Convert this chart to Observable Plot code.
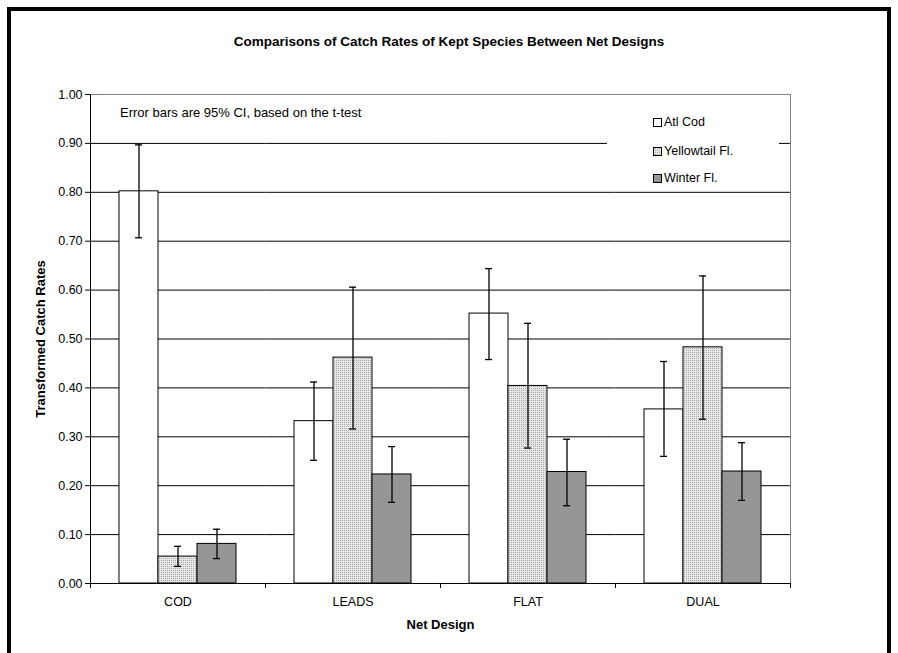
<!DOCTYPE html>
<html>
<head>
<meta charset="utf-8">
<script src="https://cdn.jsdelivr.net/npm/d3@7"></script>
<script src="https://cdn.jsdelivr.net/npm/@observablehq/plot@0.6"></script>
<style>
  html, body { margin: 0; padding: 0; background: #fff; }
  body { font-family: "Liberation Sans", Arial, sans-serif; }
  #wrap { position: relative; width: 898px; height: 653px; overflow: hidden; }
  #border { position: absolute; left: 7px; top: 7px; width: 884px; height: 700px; border: 4px solid #000; box-sizing: border-box; }
  #title { position: absolute; left: 0; width: 898px; top: 34px; text-align: center; font-size: 13.5px; font-weight: bold; color: #000; }
  #note { position: absolute; left: 120px; top: 105px; font-size: 13px; color: #000; }
  #legend { position: absolute; left: 607px; top: 100px; width: 172px; height: 88px; background: #fff; }
  .item { position: absolute; left: 46px; font-size: 12.5px; height: 14px; line-height: 14px; white-space: nowrap; }
  .sw { display: inline-block; width: 7px; height: 7px; border: 1px solid #000; vertical-align: -1px; margin-right: 2px; }
  #chart svg g[aria-label="y-axis label"], #chart svg g[aria-label="fx-axis label"] { font-weight: bold; font-size: 13px; }
</style>
</head>
<body>
<div id="wrap">
  <div id="chart"></div>
  <div id="border"></div>
  <div id="title">Comparisons of Catch Rates of Kept Species Between Net Designs</div>
  <div id="note">Error bars are 95% CI, based on the t-test</div>
  <div id="legend"></div>
</div>
<script>
const categories = ["COD", "LEADS", "FLAT", "DUAL"];
const species = ["Atl Cod", "Yellowtail Fl.", "Winter Fl."];
const speciesFills = ["#ffffff", "url(#dots)", "#969696"];

const atlCod      = [0.802, 0.332, 0.552, 0.356];
const atlCodLow   = [0.707, 0.252, 0.458, 0.260];
const atlCodHigh  = [0.897, 0.412, 0.644, 0.454];

const yellowtail     = [0.055, 0.462, 0.404, 0.483];
const yellowtailLow  = [0.035, 0.316, 0.277, 0.336];
const yellowtailHigh = [0.076, 0.606, 0.532, 0.629];

const winter     = [0.081, 0.223, 0.228, 0.229];
const winterLow  = [0.051, 0.166, 0.159, 0.170];
const winterHigh = [0.111, 0.280, 0.295, 0.288];

const yTicks = [0, 0.1, 0.2, 0.3, 0.4, 0.5, 0.6, 0.7, 0.8, 0.9, 1.0];
const gridTicks = [0.1, 0.2, 0.3, 0.4, 0.5, 0.6, 0.7, 0.8, 0.9];

const series = [
  {name: species[0], v: atlCod, lo: atlCodLow, hi: atlCodHigh},
  {name: species[1], v: yellowtail, lo: yellowtailLow, hi: yellowtailHigh},
  {name: species[2], v: winter, lo: winterLow, hi: winterHigh}
];
const rows = [];
categories.forEach((c, i) => {
  series.forEach(s => rows.push({category: c, species: s.name, value: s.v[i], low: s.lo[i], high: s.hi[i]}));
});

const W = 898, H = 653, ML = 90, MR = 107, MT = 94, MB = 70;
const PAD_IN = 0.33;
// half of the gap between facet groups, so horizontal lines span the whole plot
const step = (W - ML - MR) / categories.length;
const halfGap = step * PAD_IN / 2;

const plot = Plot.plot({
  width: W,
  height: H,
  marginLeft: ML,
  marginRight: MR,
  marginTop: MT,
  marginBottom: MB,
  style: {fontFamily: "'Liberation Sans', Arial, sans-serif", fontSize: "12.5px", background: "transparent", color: "#000"},
  fx: {domain: categories, paddingInner: PAD_IN, paddingOuter: PAD_IN / 2},
  x: {domain: species, padding: 0, axis: null},
  y: {domain: [0, 1]},
  color: {domain: species, range: speciesFills},
  marks: [
    Plot.ruleY(gridTicks, {stroke: "#000", strokeWidth: 1, insetLeft: -halfGap, insetRight: -halfGap}),
    Plot.ruleY([1], {stroke: "#808080", strokeWidth: 1, insetLeft: -halfGap, insetRight: -halfGap}),
    Plot.barY(rows, {fx: "category", x: "species", y: "value", fill: "species", stroke: "#000", strokeWidth: 1}),
    Plot.ruleX(rows, {fx: "category", x: "species", y1: "low", y2: "high", stroke: "#000", strokeWidth: 1.3}),
    Plot.tickY(rows, {fx: "category", x: "species", y: "low", stroke: "#000", strokeWidth: 1.3, insetLeft: 16, insetRight: 16}),
    Plot.tickY(rows, {fx: "category", x: "species", y: "high", stroke: "#000", strokeWidth: 1.3, insetLeft: 16, insetRight: 16}),
    Plot.ruleY([0], {stroke: "#000", insetLeft: -halfGap, insetRight: -halfGap}),
    Plot.axisY({ticks: yTicks, tickFormat: d3.format(".2f"), tickSize: 5, tickPadding: 3, dx: -halfGap,
      label: "Transformed Catch Rates", labelArrow: "none", labelAnchor: "center", labelOffset: 84}),
    Plot.axisFx({anchor: "bottom", tickSize: 0, tickPadding: 14, label: "Net Design", labelArrow: "none", labelAnchor: "center", labelOffset: 45})
  ]
});
document.getElementById("chart").appendChild(plot);

const svg = d3.select(plot);
svg.insert("defs", ":first-child").html(
  '<pattern id="dots" width="2" height="2" patternUnits="userSpaceOnUse">' +
  '<rect width="2" height="2" fill="#e6e6e6"/><rect width="1" height="1" fill="#a8a8a8"/></pattern>');

// left axis line, right plot border and category boundary ticks, from the library's scales
const fx = plot.scale("fx");
const yS = plot.scale("y");
const y0 = yS.apply(0);
const y1 = yS.apply(1);
const gap = (fx.step - fx.bandwidth) / 2;
const bounds = categories.map(c => fx.apply(c) - gap);
bounds.push(fx.apply(categories[categories.length - 1]) + fx.bandwidth + gap);
const g = svg.append("g").attr("stroke", "#000");
const xl = Math.round(bounds[0]) + 0.5, xr = Math.round(bounds[bounds.length - 1]) + 0.5;
g.append("line").attr("x1", xr).attr("x2", xr).attr("y1", y1).attr("y2", y0).attr("stroke", "#808080");
g.append("line").attr("x1", xl).attr("x2", xl).attr("y1", y1).attr("y2", y0);
bounds.forEach(b => {
  g.append("line").attr("x1", Math.round(b) + 0.5).attr("x2", Math.round(b) + 0.5).attr("y1", y0).attr("y2", y0 + 5);
});

// legend
const legend = document.getElementById("legend");
const legendTops = [15, 44, 71];
species.forEach((s, i) => {
  const d = document.createElement("div");
  d.className = "item";
  d.style.top = legendTops[i] + "px";
  const sw = document.createElement("span");
  sw.className = "sw";
  if (i === 1) {
    sw.style.background = "repeating-conic-gradient(#a8a8a8 0 25%, #e6e6e6 0 100%) 0 0 / 2px 2px";
  } else {
    sw.style.background = speciesFills[i];
  }
  d.appendChild(sw);
  d.appendChild(document.createTextNode(s));
  legend.appendChild(d);
});
</script>
</body>
</html>
